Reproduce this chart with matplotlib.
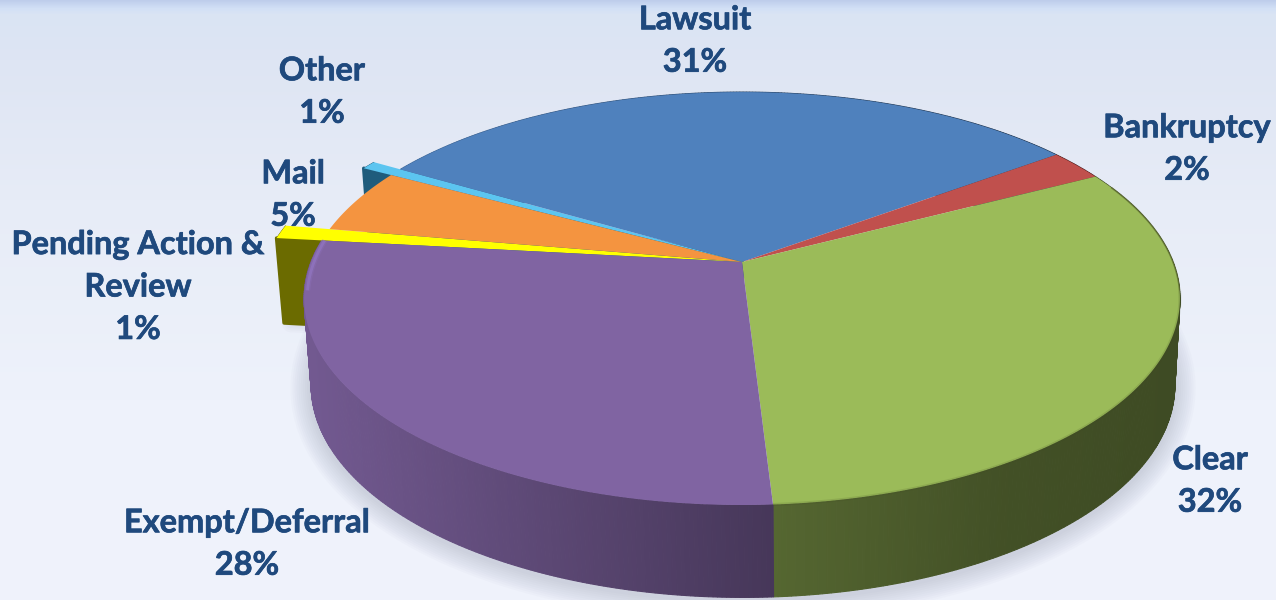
import numpy as np
import matplotlib
matplotlib.use("Agg")
import matplotlib.pyplot as plt
import matplotlib.patheffects as pe

# ---- data ----
categories = ["Lawsuit", "Bankruptcy", "Clear", "Exempt/Deferral", "Pending Action &\nReview", "Mail", "Other"]
values = [31.49, 2.45, 31.70, 27.70, 0.95, 5.10, 0.61]
top_colors = ["#4f81bd", "#c0504d", "#9bbb59", "#8064a2", "#ffff00", "#f49440", "#5cc5f0"]
explode = [1.0, 1.0, 1.0, 1.0, 1.11, 1.0, 1.085]
label_xy = [(695, 41), (1187, 149), (1210, 481), (247, 544), (138, 287), (293, 195), (322, 92)]

# ---- projection of the pie plane to pixels ----
START = 149.7
P = 0.177
TOP = dict(cx=742, cy=262, a=431, b=200)
BOT = dict(cx=743, cy=347.6, a=425, b=205.6)
TEXT = "#1f497d"


def proj(theta, r, plane):
    t = np.radians(theta)
    u, v = r * np.cos(t), r * np.sin(t)
    d = 1 + P * v
    return plane["cx"] + plane["a"] * u / d, plane["cy"] - plane["b"] * v / d


def darker(color, f):
    return tuple(np.clip(np.array(matplotlib.colors.to_rgb(color)) * f, 0, 1))


def shade(x):
    return np.interp(x, [305, 773, 1000, 1175], [0.90, 0.55, 0.43, 0.40])


fig = plt.figure(figsize=(12.76, 6), dpi=100)
ax = fig.add_axes([0, 0, 1, 1])

# background
stops_y = [0, 2, 8, 14, 60, 200, 400, 600]
stops_c = np.array([(190, 205, 235), (195, 210, 238), (210, 224, 246), (218, 228, 244),
                    (222, 229, 243), (231, 236, 247), (238, 242, 251), (240, 243, 251)]) / 255
ys = np.arange(600)
grad = np.stack([np.interp(ys, stops_y, stops_c[:, i]) for i in range(3)], axis=1)[:, None, :]
ax.imshow(grad, extent=(0, 1276, 600, 0), aspect="auto", zorder=0, interpolation="bilinear")

# slice angles (clockwise from START)
sweeps = np.array(values) / sum(values) * 360
ends = START - np.concatenate([[0], np.cumsum(sweeps)])
spans = [(ends[i + 1], ends[i]) for i in range(len(values))]

# soft shadow under the body
th = np.linspace(-200, 20, 300)
sx, sy = proj(th, 1.0, BOT)
for lw in np.arange(30, 1, -3):
    ax.plot(sx, sy + 3, color=(0.45, 0.48, 0.6), alpha=0.028, lw=lw, zorder=1, solid_capstyle="round")
ox, oy = proj(np.array([172.0]), 1.11, BOT)
for lw in np.arange(14, 1, -3):
    ax.plot([ox[0] + 3, ox[0] + 25], [oy[0] + 6, oy[0] + 7], color=(0.45, 0.48, 0.6), alpha=0.03,
            lw=lw, zorder=1, solid_capstyle="round")

# exploded slices: inner wall and outer face
wall_colors = {4: "#6b6b00", 6: "#1f5c7c"}
for i, col in wall_colors.items():
    lo, hi = spans[i]
    r = explode[i]
    rr = np.array([0.0, r])
    x1, y1 = proj(hi, rr, TOP)
    x2, y2 = proj(hi, rr[::-1], BOT)
    ax.fill(np.r_[x1, x2], np.r_[y1, y2], color=col, zorder=2, lw=2.5, joinstyle="round")
    t = np.linspace(lo, hi, 8)
    x1, y1 = proj(t, r, TOP)
    x2, y2 = proj(t[::-1], r, BOT)
    ax.fill(np.r_[x1, x2], np.r_[y1, y2], color=col, zorder=2, lw=0.5)

# body sides as thin shaded strips
for i in range(4):
    lo, hi = spans[i]
    t = np.arange(lo, hi + 0.5, 0.5)
    t[-1] = hi
    x1, y1 = proj(t, 1.0, TOP)
    x2, y2 = proj(t, 1.0, BOT)
    for k in range(len(t) - 1):
        c = darker(top_colors[i], shade(0.5 * (x2[k] + x2[k + 1])))
        ax.fill([x1[k], x1[k + 1], x2[k + 1], x2[k]], [y1[k], y1[k + 1], y2[k + 1], y2[k]],
                color=c, lw=0.8, zorder=3)

# top faces
for i, col in enumerate(top_colors):
    lo, hi = spans[i]
    t = np.linspace(lo, hi, 200)
    x, y = proj(t, explode[i], TOP)
    tx, ty = proj(0.0, 0.0, TOP)
    z = 4 if explode[i] > 1 else 5
    ax.fill(np.r_[tx, x], np.r_[ty, y], color=col, lw=0, zorder=z)

# bevel of the rim
t = np.linspace(spans[3][0], -172, 300)
x, y = proj(t, 0.993, TOP)
ax.plot(x, y, color="#8f72bd", lw=4.0, alpha=0.32, zorder=6, solid_capstyle="butt")
ax.plot(x, y, color="#9276c2", lw=2.0, alpha=0.7, zorder=6, solid_capstyle="butt")
t = np.linspace(spans[2][0], -8, 200)
x, y = proj(t, 1.0, TOP)
ax.plot(x, y, color="#3f4a20", lw=2.2, alpha=0.15, zorder=6, solid_capstyle="butt")
t = np.linspace(-8, spans[2][1] - 4, 100)
x, y = proj(t, 1.0, TOP)
ax.plot(x, y, color="#55622c", lw=1.2, alpha=0.65, zorder=6, solid_capstyle="butt")

# labels
for name, val, (lx, ly) in zip(categories, values, label_xy):
    ax.text(lx, ly, f"{name}\n{val:.0f}%", ha="center", va="center", color=TEXT, fontsize=23.4,
            fontweight="bold", family=["Lato", "DejaVu Sans"], linespacing=1.56, zorder=8,
            path_effects=[pe.withStroke(linewidth=0.5, foreground=TEXT)])

ax.set_xlim(0, 1276)
ax.set_ylim(600, 0)
ax.axis("off")
fig.savefig("out.png", dpi=100)
